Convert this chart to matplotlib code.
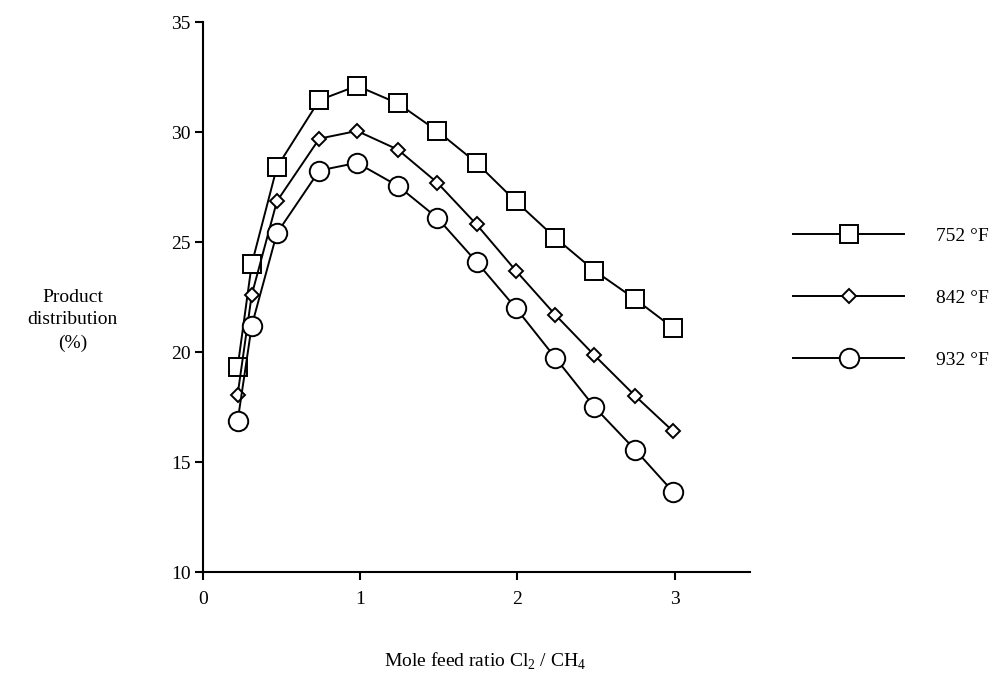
import matplotlib
matplotlib.use("Agg")
import matplotlib.pyplot as plt

# 軸のフォント設定
plt.rcParams['font.family'] = ['Liberation Serif', 'DejaVu Serif']
plt.rcParams['mathtext.fontset'] = 'custom'
plt.rcParams['mathtext.rm'] = 'Liberation Serif'

# データ
ratio = [0.22, 0.31, 0.47, 0.74, 0.98, 1.24, 1.49, 1.74, 1.99, 2.24, 2.49, 2.75, 2.99]
dist_752 = [19.3, 24.0, 28.4, 31.45, 32.1, 31.3, 30.05, 28.6, 26.85, 25.2, 23.7, 22.4, 21.1]
dist_842 = [18.05, 22.6, 26.85, 29.7, 30.05, 29.2, 27.7, 25.8, 23.7, 21.7, 19.85, 18.0, 16.4]
dist_932 = [16.85, 21.2, 25.4, 28.25, 28.6, 27.55, 26.1, 24.1, 22.0, 19.75, 17.5, 15.55, 13.65]
labels = ["752 °F", "842 °F", "932 °F"]

fig = plt.figure(figsize=(10.08, 6.8), dpi=100)
ax = fig.add_axes([0.2014, 0.1588, 0.5427, 0.8088])

style = dict(color='black', lw=1.4, mfc='white', mec='black', mew=1.4)
ax.plot(ratio, dist_752, marker='s', ms=13, label=labels[0], **style)
ax.plot(ratio, dist_842, marker='D', ms=7.5, label=labels[1], **style)
ax.plot(ratio, dist_932, marker='o', ms=14, label=labels[2], **style)

ax.set_xlim(0, 3.48)
ax.set_ylim(10, 35)
ax.set_xticks([0, 1, 2, 3])
ax.set_yticks([10, 15, 20, 25, 30, 35])
ax.spines['top'].set_visible(False)
ax.spines['right'].set_visible(False)
for s in ['left', 'bottom']:
    ax.spines[s].set_linewidth(1.5)
ax.tick_params(direction='out', length=6, width=1.5, labelsize=14)
ax.tick_params(axis='x', pad=8)
ax.tick_params(axis='y', pad=3)

ax.set_xlabel("Mole feed ratio Cl$_\\mathregular{2}$ / CH$_\\mathregular{4}$", fontsize=14)
ax.xaxis.set_label_coords(0.515, -0.143)
ax.set_ylabel("Product\ndistribution\n(%)", fontsize=14, rotation=0,
              ha='center', va='center', multialignment='center', linespacing=1.45)
ax.yaxis.set_label_coords(-0.238, 0.458)

leg = ax.legend(loc='center left', bbox_to_anchor=(1.047, 0.498), frameon=False,
                fontsize=14, handlelength=5.7, handletextpad=1.65, labelspacing=2.3)

fig.savefig("out.png", dpi=100)
